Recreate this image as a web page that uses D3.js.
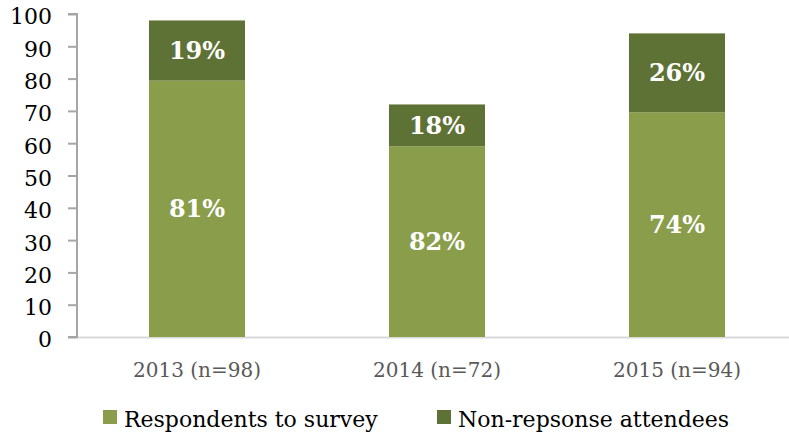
<!DOCTYPE html>
<html>
<head>
<meta charset="utf-8">
<script src="https://cdn.jsdelivr.net/npm/d3@7"></script>
<style>
  html, body { margin: 0; padding: 0; background: #fff; }
  svg { display: block; }
</style>
</head>
<body>
<svg id="chart" width="789" height="436"></svg>
<script>
// Survey attendance by year: share of attendees who answered vs. did not
const years = ["2013", "2014", "2015"];
const attendees = [98, 72, 94];
const respondentPct = [81, 82, 74];
const nonResponsePct = [19, 18, 26];
const yTicks = [0, 10, 20, 30, 40, 50, 60, 70, 80, 90, 100];
const seriesNames = ["Respondents to survey", "Non-repsonse attendees"];
const seriesColors = ["#8a9d4b", "#5f7235"];

const svg = d3.select("#chart");
const plotLeft = 77, plotBottom = 337, plotTop = 14;

const x = d3.scaleBand()
  .domain(years)
  .range([plotLeft, plotLeft + 720])
  .paddingInner(0.6)
  .paddingOuter(0.3);

const y = d3.scaleLinear().domain([0, 100]).range([plotBottom, plotTop]);

// stacked rows: respondents at the bottom, non-respondents on top
const rows = years.map((yr, i) => {
  const r = attendees[i] * respondentPct[i] / 100;
  const nr = attendees[i] * nonResponsePct[i] / 100;
  return {
    year: yr,
    label: `${yr} (n=${attendees[i]})`,
    segs: [
      { s: 0, y0: 0, y1: r, pct: respondentPct[i] },
      { s: 1, y0: r, y1: r + nr, pct: nonResponsePct[i] }
    ]
  };
});

// x baseline
svg.append("line")
  .attr("x1", plotLeft).attr("x2", 789)
  .attr("y1", plotBottom + 0.5).attr("y2", plotBottom + 0.5)
  .attr("stroke", "#d9d9d9").attr("stroke-width", 2);

// y axis
const yAxis = d3.axisLeft(y).tickValues(yTicks).tickSize(9).tickPadding(16).tickFormat(d3.format("d"));
const gy = svg.append("g").attr("transform", `translate(${plotLeft},0)`).call(yAxis);
gy.select(".domain").attr("stroke", "#a6a6a6").attr("stroke-width", 2).attr("d", `M-9,${plotTop}H0V${plotBottom}H-9`);
gy.selectAll(".tick line").attr("stroke", "#a6a6a6").attr("stroke-width", 2);
gy.selectAll(".tick text")
  .attr("font-family", "'DejaVu Serif', serif")
  .attr("font-size", 22)
  .attr("fill", "#000")
  .attr("dy", "0.45em");

// bars
const groups = svg.selectAll("g.bar").data(rows).join("g").attr("class", "bar");
groups.selectAll("rect").data(d => d.segs.map(s => ({ ...s, year: d.year }))).join("rect")
  .attr("x", d => x(d.year))
  .attr("width", x.bandwidth())
  .attr("y", d => y(d.y1))
  .attr("height", d => y(d.y0) - y(d.y1))
  .attr("fill", d => seriesColors[d.s]);

// percentage labels inside each segment
groups.selectAll("text.pct").data(d => d.segs.map(s => ({ ...s, year: d.year }))).join("text")
  .attr("class", "pct")
  .attr("x", d => x(d.year) + x.bandwidth() / 2)
  .attr("y", d => y((d.y0 + d.y1) / 2))
  .attr("dy", "0.36em")
  .attr("text-anchor", "middle")
  .attr("font-family", "'DejaVu Serif', serif")
  .attr("font-weight", "bold")
  .attr("font-size", 24)
  .attr("fill", "#fff")
  .text(d => d.pct + "%");

// category labels
svg.selectAll("text.cat").data(rows).join("text")
  .attr("class", "cat")
  .attr("x", d => x(d.year) + x.bandwidth() / 2)
  .attr("y", 377)
  .attr("text-anchor", "middle")
  .attr("font-family", "'DejaVu Serif', serif")
  .attr("font-size", 20)
  .attr("fill", "#595959")
  .text(d => d.label);

// legend
const legendX = [103, 437];
const lg = svg.selectAll("g.legend").data(seriesNames).join("g")
  .attr("class", "legend")
  .attr("transform", (d, i) => `translate(${legendX[i]},410)`);
lg.append("rect").attr("width", 14).attr("height", 14).attr("fill", (d, i) => seriesColors[i]);
lg.append("text")
  .attr("x", 21).attr("y", 17)
  .attr("font-family", "'DejaVu Serif', serif")
  .attr("font-size", 22)
  .attr("fill", "#000")
  .text(d => d);
</script>
</body>
</html>
